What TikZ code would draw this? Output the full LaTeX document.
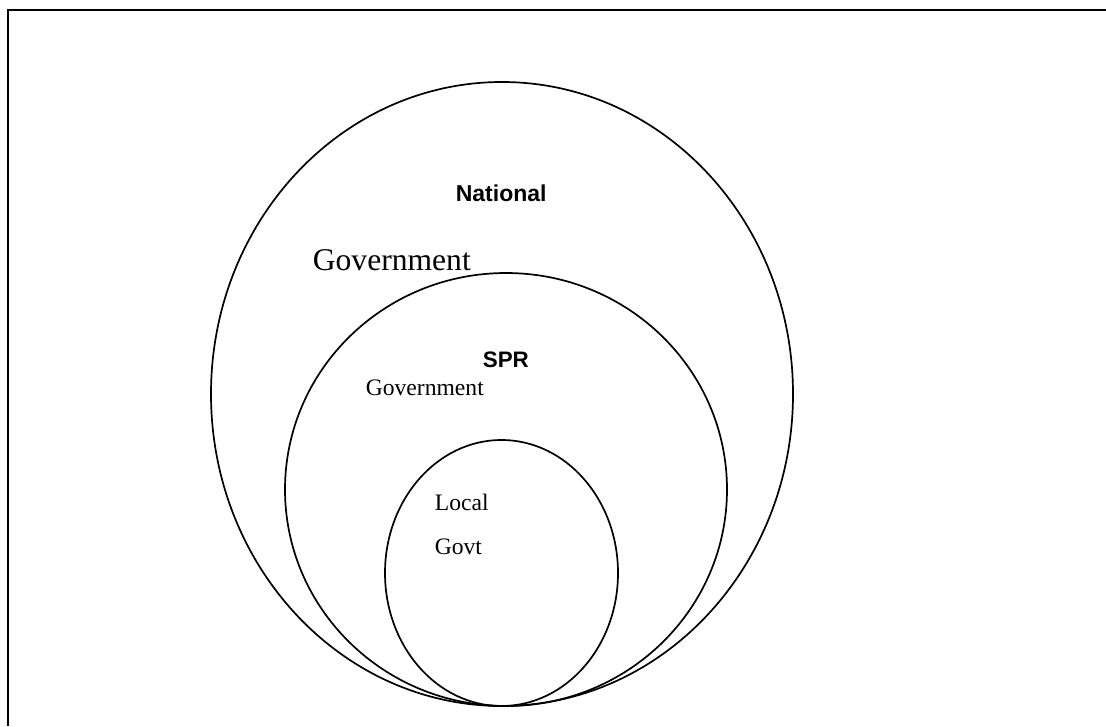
\documentclass[tikz,border=0pt]{standalone}
\usepackage{fontspec}
\setmainfont{Liberation Serif}
\newfontfamily\labelsans{Liberation Sans}
\usepackage{tikz}

\begin{document}
\begin{tikzpicture}[x=1pt, y=-1pt, line width=1.7pt,
    lbl/.style={inner sep=0pt, anchor=base west},
    head/.style={lbl, font=\labelsans\bfseries}]
     \useasboundingbox (0,0) rectangle (1106,726);
     \draw[line width=2.6pt] (8,726) -- (8,10) -- (1106,10);

     % three nested levels
     \draw (502,394) ellipse [x radius=291, y radius=312];
     \draw (506,489.5) ellipse [x radius=221, y radius=216.5];
     \draw (501.5,573) ellipse [x radius=116.5, y radius=133];

     \node[head, font=\labelsans\bfseries\fontsize{23}{26}\selectfont] (national) at (455,201) {National};
     \node[lbl, font=\fontsize{31.6}{36}\selectfont] (natgov) at (312,270) {Government};
     \node[head, font=\labelsans\bfseries\fontsize{22.4}{26}\selectfont] (spr) at (482,367) {SPR};
     \node[lbl, font=\fontsize{23.6}{27}\selectfont] (sprgov) at (365,395) {Government};
     \node[lbl, font=\fontsize{23.6}{27}\selectfont] (local) at (434,510) {Local};
     \node[lbl, font=\fontsize{23.6}{27}\selectfont] (govt) at (434,554) {Govt};
\end{tikzpicture}
\end{document}
